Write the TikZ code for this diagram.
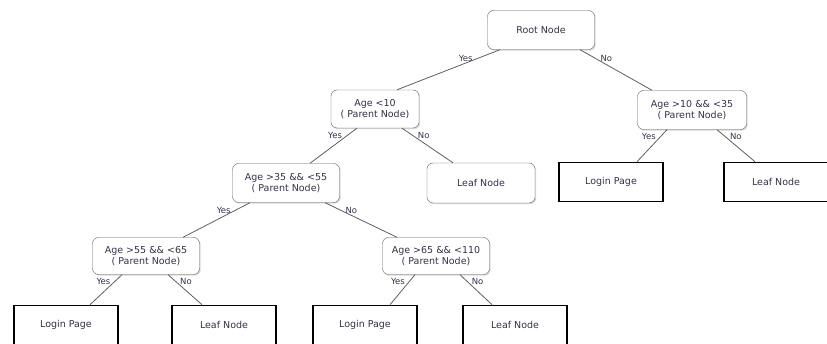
\documentclass[tikz,border=0pt]{standalone}
\usepackage{fontspec}
\setmainfont{DejaVu Sans}
\usetikzlibrary{positioning, calc, shadows}
\definecolor{txtgray}{RGB}{50,50,72}
\definecolor{edgegray}{RGB}{95,95,95}

\tikzset{
  test/.style={draw=edgegray, rounded corners=6pt, fill=white, align=center,
    minimum width=107pt, minimum height=39pt, inner sep=2pt,
    font=\fontsize{9.5}{11.5}\selectfont, text=txtgray,
    drop shadow={shadow xshift=1.2pt, shadow yshift=-1.2pt, opacity=0.3}},
  leaf/.style={draw=black, line width=1.6pt, fill=white,
    minimum width=104pt, minimum height=39pt,
    font=\fontsize{9.5}{11.5}\selectfont, text=txtgray},
  branch/.style={edgegray, line width=0.8pt},
  yes/.style={pos=0.22, left=1pt, font=\fontsize{8.5}{10}\selectfont, text=txtgray},
  no/.style={pos=0.22, right=1pt, font=\fontsize{8.5}{10}\selectfont, text=txtgray}
}

\begin{document}
\begin{tikzpicture}[x=1pt, y=-1pt]
  \useasboundingbox (0,0) rectangle (827,344);

  % decision nodes
  \node[test] (root) at (541,30) {Root Node};
  \node[test, minimum width=88pt, minimum height=38pt] (age10) at (375,109) {Age <10\\( Parent Node)};
  \node[test, minimum width=109pt] (age1035) at (692,110) {Age >10 \&\& <35\\( Parent Node)};
  \node[test] (age3555) at (286,183) {Age >35 \&\& <55\\( Parent Node)};
  \node[test, minimum height=37pt] (age5565) at (146,256) {Age >55 \&\& <65\\( Parent Node)};
  \node[test, minimum height=37pt] (age65110) at (436,256) {Age >65 \&\& <110\\( Parent Node)};

  % the rounded leaf
  \node[test, minimum width=108pt, minimum height=40pt] (leafmid) at (481,183) {Leaf Node};

  % leaves
  \node[leaf] (loginright) at (611,182) {Login Page};
  \node[leaf] (leafright) at (776,182) {Leaf Node};
  \node[leaf] (loginleft) at (66,325) {Login Page};
  \node[leaf] (leafleft) at (224,325) {Leaf Node};
  \node[leaf] (loginmid) at (365,325) {Login Page};
  \node[leaf] (leafbottom) at (515,325) {Leaf Node};

  % branches
  \draw[branch] ([xshift=-41pt]root.south) -- node[yes] {Yes} ([xshift=22pt]age10.north);
  \draw[branch] ([xshift=39pt]root.south) -- node[no] {No} ([xshift=-40pt]age1035.north);

  \draw[branch] ([xshift=-18pt]age10.south) -- node[yes] {Yes} ([xshift=24pt]age3555.north);
  \draw[branch] ([xshift=27pt]age10.south) -- node[no] {No} ([xshift=-28pt]leafmid.north);

  \draw[branch] ([xshift=-25pt]age1035.south) -- node[yes] {Yes} ([xshift=26pt]loginright.north);
  \draw[branch] ([xshift=25pt]age1035.south) -- node[no] {No} ([xshift=-21pt]leafright.north);

  \draw[branch] ([xshift=-36pt]age3555.south) -- node[yes] {Yes} ([xshift=37pt]age5565.north);
  \draw[branch] ([xshift=39pt]age3555.south) -- node[no] {No} ([xshift=-39pt]age65110.north);

  \draw[branch] ([xshift=-24pt]age5565.south) -- node[yes] {Yes} ([xshift=24pt]loginleft.north);
  \draw[branch] ([xshift=22pt]age5565.south) -- node[no] {No} ([xshift=-22pt]leafleft.north);

  \draw[branch] ([xshift=-21pt]age65110.south) -- node[yes] {Yes} ([xshift=25pt]loginmid.north);
  \draw[branch] ([xshift=24pt]age65110.south) -- node[no] {No} ([xshift=-23pt]leafbottom.north);
\end{tikzpicture}
\end{document}
